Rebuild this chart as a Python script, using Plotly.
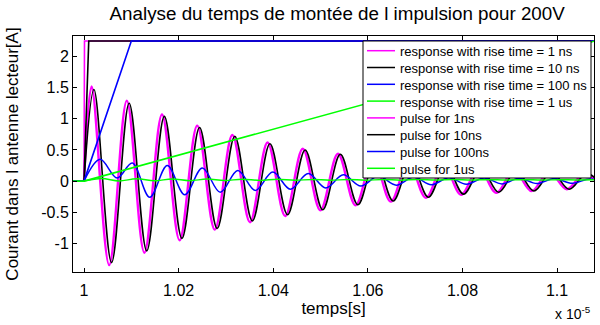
import plotly.graph_objects as go

# ---------------- data (time in units of 1e-5 s, current in A) ----------------
t_resp_1ns = [1.0, 1.00160, 1.00532, 1.00904, 1.01276, 1.01648, 1.02020, 1.02392, 1.02764,
              1.03136, 1.03508, 1.03880, 1.04252, 1.04624, 1.04996, 1.05368, 1.05740, 1.06112,
              1.06484, 1.06856, 1.07228, 1.07600, 1.07972, 1.08344, 1.08716, 1.09088, 1.09460,
              1.09832, 1.10204, 1.10576, 1.10948]
i_resp_1ns = [0, 1.52, -1.35, 1.29, -1.15, 1.07, -0.95, 0.89, -0.78, 0.74, -0.66, 0.62, -0.56,
              0.52, -0.47, 0.44, -0.39, 0.37, -0.33, 0.31, -0.27, 0.26, -0.22, 0.21, -0.19, 0.18,
              -0.16, 0.15, -0.13, 0.12, -0.11]

t_resp_10ns = [1.0, 1.00210, 1.00582, 1.00954, 1.01326, 1.01698, 1.02070, 1.02442, 1.02814,
               1.03186, 1.03558, 1.03930, 1.04302, 1.04674, 1.05046, 1.05418, 1.05790, 1.06162,
               1.06534, 1.06906, 1.07278, 1.07650, 1.08022, 1.08394, 1.08766, 1.09138, 1.09510,
               1.09882, 1.10254, 1.10626, 1.10998]
i_resp_10ns = [0, 1.47, -1.31, 1.25, -1.12, 1.04, -0.92, 0.86, -0.76, 0.72, -0.64, 0.60, -0.54,
               0.50, -0.46, 0.43, -0.38, 0.36, -0.32, 0.30, -0.26, 0.25, -0.21, 0.20, -0.18, 0.17,
               -0.16, 0.15, -0.13, 0.12, -0.11]

t_resp_100ns = [1.0, 1.0034, 1.0070, 1.0102, 1.0139, 1.0176, 1.0213, 1.0250, 1.0288, 1.0325,
                1.0362, 1.0399, 1.0436, 1.0474, 1.0511, 1.0548, 1.0585, 1.0622, 1.0660, 1.0697,
                1.0734, 1.0771, 1.0808, 1.0846, 1.0883, 1.0920, 1.0957, 1.0994, 1.1032, 1.1069,
                1.1106]
i_resp_100ns = [0, 0.35, 0.05, 0.29, -0.26, 0.25, -0.22, 0.21, -0.18, 0.17, -0.15, 0.145, -0.13,
                0.12, -0.11, 0.10, -0.08, 0.08, -0.065, 0.065, -0.06, 0.055, -0.05, 0.05, -0.045,
                0.045, -0.04, 0.04, -0.035, 0.035, -0.03]

t_resp_1us = [1.0, 1.0037, 1.0074, 1.0111, 1.0149, 1.0186, 1.0223, 1.0260, 1.0297, 1.0334,
              1.0372, 1.0409, 1.0446, 1.0483, 1.0520, 1.0558, 1.0595, 1.0632, 1.0669, 1.0706,
              1.0744, 1.0781, 1.0818, 1.0855, 1.0892, 1.0930, 1.0967, 1.1004, 1.1041, 1.1078]
i_resp_1us = [0, 0.040, 0.002, 0.037, 0.005, 0.034, 0.007, 0.032, 0.009, 0.030, 0.011, 0.028,
              0.012, 0.027, 0.013, 0.026, 0.014, 0.025, 0.015, 0.024, 0.016, 0.024, 0.016, 0.023,
              0.017, 0.023, 0.017, 0.022, 0.018, 0.020]

t_pulse_1ns = [0.9975, 1.0, 1.0001, 1.11]
v_pulse_1ns = [0, 0, 2.25, 2.25]
t_pulse_10ns = [0.9975, 1.0, 1.001, 1.11]
v_pulse_10ns = [0, 0, 2.25, 2.25]
t_pulse_100ns = [0.9975, 1.0, 1.01, 1.11]
v_pulse_100ns = [0, 0, 2.25, 2.25]
t_pulse_1us = [0.9975, 1.0, 1.108]
v_pulse_1us = [0, 0, 2.25]

legend_names = ["response with rise time = 1 ns", "response with rise time = 10 ns",
                "response with rise time = 100 ns", "response with rise time = 1 us",
                "pulse for 1ns", "pulse for 10ns", "pulse for 100ns", "pulse for 1us"]

x_tickvals = [1.0, 1.02, 1.04, 1.06, 1.08, 1.1]
x_ticktext = ["1", "1.02", "1.04", "1.06", "1.08", "1.1"]
y_tickvals = [-1, -0.5, 0, 0.5, 1, 1.5, 2]
y_ticktext = ["-1", "-0.5", "0", "0.5", "1", "1.5", "2"]

# ---------------- styling / layout ----------------
FONT = "Arial, Liberation Sans, sans-serif"
W, H = 600, 325
L, R, T, B = 73, 594, 36, 272

MAG, BLK, BLU, GRN = "#ff00ff", "#000000", "#0000ff", "#00ff00"

series = [
    (t_resp_1ns, i_resp_1ns, MAG, 2.4, "spline"),
    (t_resp_10ns, i_resp_10ns, BLK, 1.6, "spline"),
    (t_resp_100ns, i_resp_100ns, BLU, 1.5, "spline"),
    (t_resp_1us, i_resp_1us, GRN, 1.5, "spline"),
    (t_pulse_1ns, v_pulse_1ns, MAG, 1.6, "linear"),
    (t_pulse_10ns, v_pulse_10ns, BLK, 1.6, "linear"),
    (t_pulse_100ns, v_pulse_100ns, BLU, 1.6, "linear"),
    (t_pulse_1us, v_pulse_1us, GRN, 1.6, "linear"),
]

fig = go.Figure()
for (tx, vy, col, lw, shape), name in zip(series, legend_names):
    fig.add_trace(go.Scatter(x=tx, y=vy, mode="lines", name=name, showlegend=False,
                             line=dict(color=col, width=lw, shape=shape, smoothing=1.0)))


def px_x(px):
    return (px - L) / (R - L)


def px_y(py):
    return (B - py) / (B - T)


shapes = [dict(type="rect", xref="paper", yref="paper", x0=px_x(363), x1=px_x(591),
               y0=px_y(178), y1=px_y(41), fillcolor="white", line=dict(color="black", width=1),
               layer="above")]
annotations = []
for k, (name, s) in enumerate(zip(legend_names, series)):
    yc = 51.7 + 16.8 * k
    shapes.append(dict(type="line", xref="paper", yref="paper", x0=px_x(367), x1=px_x(395),
                       y0=px_y(yc - 1), y1=px_y(yc - 1), line=dict(color=s[2], width=1.5),
                       layer="above"))
    annotations.append(dict(text=name, xref="paper", yref="paper", x=px_x(398), y=px_y(yc),
                            xanchor="left", yanchor="middle", showarrow=False,
                            font=dict(family=FONT, size=13, color="black")))

annotations.append(dict(text="x 10<sup>-5</sup>", xref="paper", yref="paper", x=px_x(553),
                        y=px_y(313), xanchor="left", yanchor="middle", showarrow=False,
                        font=dict(family=FONT, size=14, color="black")))

axis_common = dict(showgrid=False, zeroline=False, showline=True, linecolor="black",
                   linewidth=1, mirror="ticks", ticks="inside", ticklen=4, tickcolor="black",
                   automargin=False,
                   tickfont=dict(family=FONT, size=16, color="black"))

fig.update_layout(
    width=W, height=H,
    margin=dict(l=L, r=W - R, t=T, b=H - B, pad=0),
    paper_bgcolor="white", plot_bgcolor="white",
    title=dict(text="Analyse du temps de montée de l impulsion pour 200V",
               font=dict(family=FONT, size=18.8, color="black"),
               x=0.562, xanchor="center", y=1 - 13 / H, yanchor="middle", xref="container",
               yref="container"),
    xaxis=dict(range=[0.99767, 1.1078], tickvals=x_tickvals, ticktext=x_ticktext,
               ticklabelstandoff=4,
               title=dict(text="temps[s]", font=dict(family=FONT, size=17, color="black"),
                          standoff=0), **axis_common),
    yaxis=dict(range=[-1.46, 2.33], tickvals=y_tickvals, ticktext=y_ticktext,
               title=dict(text="Courant dans l antenne lecteur[A]",
                          font=dict(family=FONT, size=17, color="black"), standoff=18),
               **axis_common),
    shapes=shapes,
    annotations=annotations,
    showlegend=False,
)

fig.write_html("out.html", config={"displayModeBar": False},
               post_script="document.body.style.margin='0';")
